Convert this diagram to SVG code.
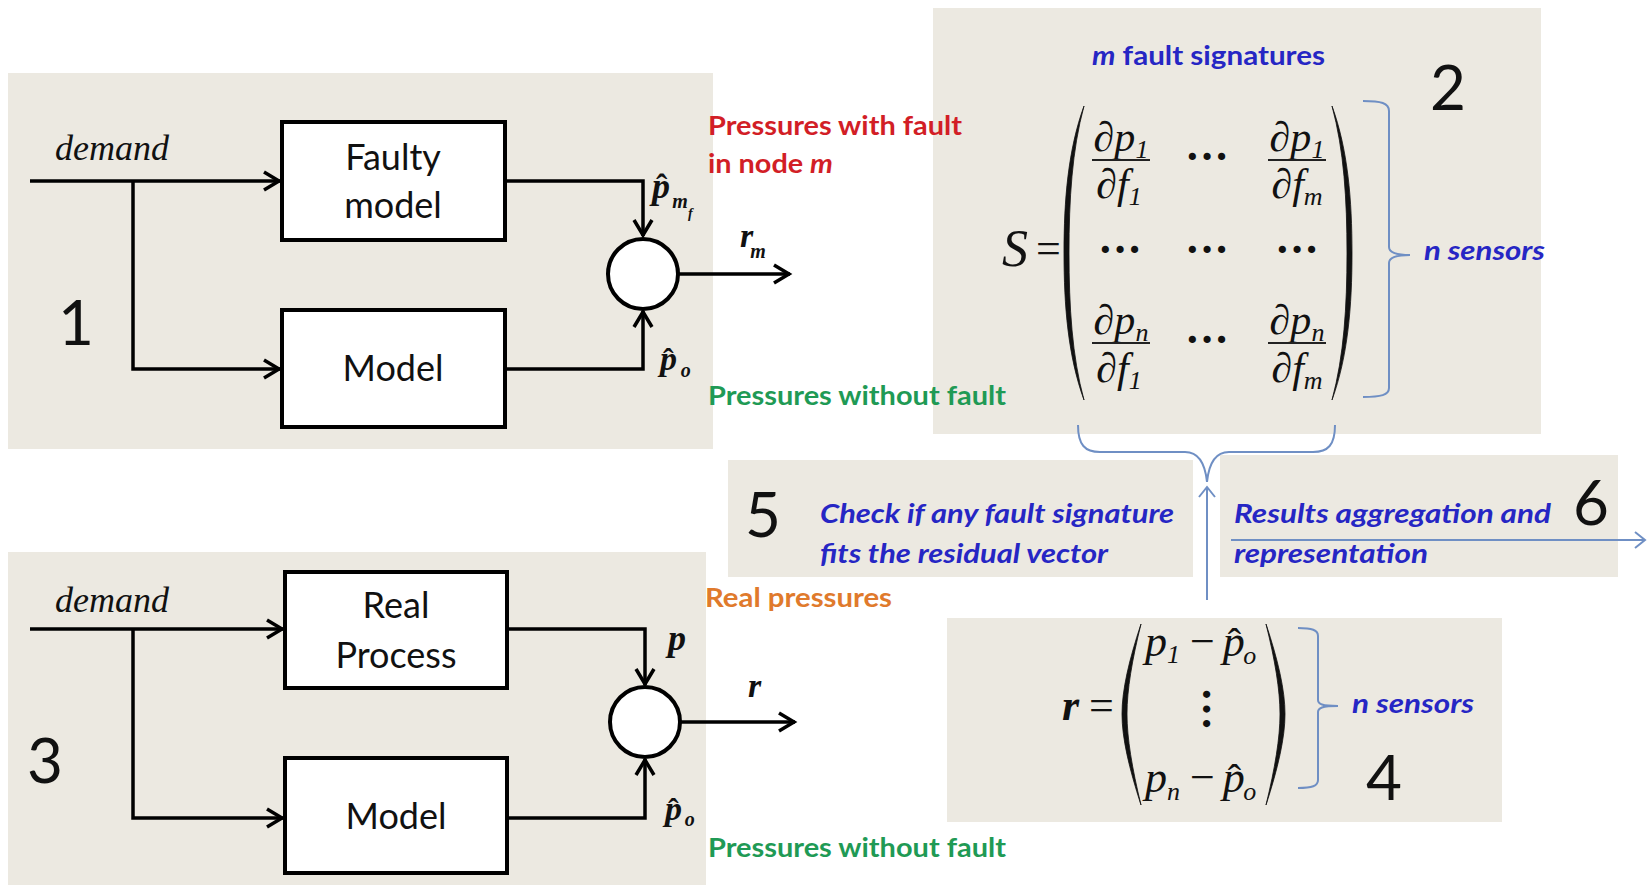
<svg xmlns="http://www.w3.org/2000/svg" width="1647" height="885" viewBox="0 0 1647 885">
<defs>
<style>
.bg{fill:#ece9e1}
.box{fill:#fff;stroke:#000;stroke-width:4}
.sum{fill:#fff;stroke:#000;stroke-width:4}
.wire{fill:none;stroke:#000;stroke-width:3.5;marker-end:url(#ah)}
.lbl{font-family:Lato,"Liberation Sans",sans-serif;font-size:36px;fill:#111;text-anchor:middle}
.num{font-family:Lato,"Liberation Sans",sans-serif;font-size:62px;fill:#111}
.math{font-family:"Liberation Serif","Times New Roman",serif;font-style:italic;fill:#111}
.rm{font-family:"Liberation Serif","Times New Roman",serif;fill:#111}
.up{font-style:normal}
.bm{font-weight:bold}
.note{font-family:Lato,"Liberation Sans",sans-serif;font-size:26px;font-weight:bold}
.blue{fill:#2626c4}
.red{fill:#d21e26}
.green{fill:#1f9a55}
.orange{fill:#e07a2c}
.it{font-style:italic}
.brace{fill:none;stroke:#6f8fc4;stroke-width:2}
.paren{fill:#111;stroke:#111;stroke-width:0.8}
.frac{stroke:#222;stroke-width:2}
</style>
<marker id="ah" markerUnits="userSpaceOnUse" viewBox="-20 -12 26 24" markerWidth="26" markerHeight="24" refX="1" refY="0" orient="auto">
<path d="M-15,-9 L0,0 L-15,9" fill="none" stroke="#000" stroke-width="3.5"/>
</marker>
<marker id="ahb" markerUnits="userSpaceOnUse" viewBox="-14 -10 18 20" markerWidth="18" markerHeight="20" refX="0" refY="0" orient="auto">
<path d="M-10,-8 L0,0 L-10,8" fill="none" stroke="#6f8fc4" stroke-width="2"/>
</marker>
</defs>

<g id="panels">
<rect class="bg" x="8" y="73" width="705" height="376"/>
<rect class="bg" x="8" y="552" width="698" height="333"/>
<rect class="bg" x="933" y="8" width="608" height="426"/>
<rect class="bg" x="728" y="460" width="465" height="117"/>
<rect class="bg" x="1220" y="455" width="398" height="122"/>
<rect class="bg" x="947" y="618" width="555" height="204"/>
</g>

<g id="connectors">
<path class="wire" d="M30,181 H280"/>
<path class="wire" d="M133,181 V369 H280"/>
<path class="wire" d="M505,181 H643 V236"/>
<path class="wire" d="M505,369 H643 V311"/>
<path class="wire" d="M678,274 H790"/>
<path class="wire" d="M30,629 H283"/>
<path class="wire" d="M133,629 V818 H283"/>
<path class="wire" d="M507,629 H645 V685"/>
<path class="wire" d="M507,818 H645 V759"/>
<path class="wire" d="M680,722 H795"/>
<path class="brace" d="M1078,425 C1078,445 1085,452 1100,452 L1185,452 C1198,452 1205,462 1207,482 M1335,425 C1335,445 1328,452 1313,452 L1229,452 C1216,452 1209,462 1207,482"/>
<path class="brace" d="M1207,600 V487" marker-end="url(#ahb)"/>
<path class="brace" d="M1231,540 H1645" marker-end="url(#ahb)"/>
</g>

<g id="node-faulty-model">
<rect class="box" x="282" y="122" width="223" height="118"/>
<text class="lbl" x="393" y="170">Faulty</text>
<text class="lbl" x="393" y="218">model</text>
</g>
<g id="node-model-1">
<rect class="box" x="282" y="310" width="223" height="117"/>
<text class="lbl" x="393" y="381">Model</text>
</g>
<g id="node-sum-1">
<circle class="sum" cx="643" cy="274" r="35"/>
</g>
<g id="node-real-process">
<rect class="box" x="285" y="572" width="222" height="116"/>
<text class="lbl" x="396" y="618">Real</text>
<text class="lbl" x="396" y="668">Process</text>
</g>
<g id="node-model-3">
<rect class="box" x="285" y="758" width="222" height="115"/>
<text class="lbl" x="396" y="829">Model</text>
</g>
<g id="node-sum-3">
<circle class="sum" cx="645" cy="722" r="35"/>
</g>

<g id="labels-panel1">
<text class="math" x="55" y="160" font-size="36">demand</text>
<text class="num" x="58" y="345">1</text>
<text class="math bm" x="652" y="198" font-size="36">p<tspan class="up" font-size="34" dx="-14">ˆ</tspan><tspan font-size="20" dx="5" dy="10">m</tspan><tspan font-size="14" dy="10">f</tspan></text>
<text class="math bm" x="740" y="247" font-size="34">r<tspan font-size="20" dx="-3" dy="11">m</tspan></text>
<text class="math bm" x="660" y="370" font-size="34">p<tspan class="up" font-size="32" dx="-14">ˆ</tspan><tspan font-size="20" dx="7" dy="7">o</tspan></text>
<text class="note red" x="708" y="135" textLength="254" lengthAdjust="spacingAndGlyphs">Pressures with fault</text>
<text class="note red" x="708" y="173" textLength="125" lengthAdjust="spacingAndGlyphs">in node <tspan class="it">m</tspan></text>
<text class="note green" x="708" y="405" textLength="298" lengthAdjust="spacingAndGlyphs">Pressures without fault</text>
</g>

<g id="labels-panel3">
<text class="math" x="55" y="612" font-size="36">demand</text>
<text class="num" x="27" y="783">3</text>
<text class="math bm" x="668" y="650" font-size="36">p</text>
<text class="math bm" x="748" y="697" font-size="34">r</text>
<text class="math bm" x="665" y="820" font-size="34">p<tspan class="up" font-size="32" dx="-14">ˆ</tspan><tspan font-size="20" dx="6" dy="6">o</tspan></text>
<text class="note orange" x="705" y="607" textLength="187" lengthAdjust="spacingAndGlyphs">Real pressures</text>
<text class="note green" x="708" y="857" textLength="298" lengthAdjust="spacingAndGlyphs">Pressures without fault</text>
</g>

<g id="panel2-matrix">
<text class="note blue" x="1092" y="65" textLength="233" lengthAdjust="spacingAndGlyphs"><tspan class="it">m</tspan> fault signatures</text>
<text class="num" x="1430" y="110">2</text>
<text class="math" x="1002" y="266" font-size="52">S</text>
<text class="rm" x="1036" y="263" font-size="44">=</text>
<path class="paren" d="M1084,106 C1068,150 1064,200 1064,253 C1064,306 1068,356 1084,400 C1072,356 1069,306 1069,253 C1069,200 1072,150 1084,106 Z"/>
<path class="paren" d="M1332,106 C1348,150 1352,200 1352,253 C1352,306 1348,356 1332,400 C1344,356 1347,306 1347,253 C1347,200 1344,150 1332,106 Z"/>
<text class="math" x="1121" y="151" font-size="42" text-anchor="middle">∂p<tspan font-size="26" dy="7">1</tspan></text>
<line class="frac" x1="1092" y1="160" x2="1150" y2="160"/>
<text class="math" x="1119" y="198" font-size="42" text-anchor="middle">∂f<tspan font-size="26" dy="7">1</tspan></text>
<text class="math" x="1297" y="151" font-size="42" text-anchor="middle">∂p<tspan font-size="26" dy="7">1</tspan></text>
<line class="frac" x1="1268" y1="160" x2="1326" y2="160"/>
<text class="math" x="1297" y="198" font-size="42" text-anchor="middle">∂f<tspan font-size="26" dy="7">m</tspan></text>
<text class="rm bm" x="1207" y="171" font-size="44" text-anchor="middle">···</text>
<text class="rm bm" x="1120" y="264" font-size="44" text-anchor="middle">···</text>
<text class="rm bm" x="1207" y="264" font-size="44" text-anchor="middle">···</text>
<text class="rm bm" x="1297" y="264" font-size="44" text-anchor="middle">···</text>
<text class="math" x="1121" y="334" font-size="42" text-anchor="middle">∂p<tspan font-size="26" dy="7">n</tspan></text>
<line class="frac" x1="1092" y1="343" x2="1150" y2="343"/>
<text class="math" x="1119" y="382" font-size="42" text-anchor="middle">∂f<tspan font-size="26" dy="7">1</tspan></text>
<text class="rm bm" x="1207" y="354" font-size="44" text-anchor="middle">···</text>
<text class="math" x="1297" y="334" font-size="42" text-anchor="middle">∂p<tspan font-size="26" dy="7">n</tspan></text>
<line class="frac" x1="1268" y1="343" x2="1326" y2="343"/>
<text class="math" x="1297" y="382" font-size="42" text-anchor="middle">∂f<tspan font-size="26" dy="7">m</tspan></text>
<path class="brace" d="M1363,101 C1381,101 1389,103 1389,111 L1389,247 C1389,252 1394,255 1410,255 C1394,255 1389,258 1389,263 L1389,388 C1389,395 1381,397 1363,397"/>
<text class="note blue it" x="1424" y="260" textLength="121" lengthAdjust="spacingAndGlyphs">n sensors</text>
</g>

<g id="panel4-residual">
<text class="math bm" x="1062" y="720" font-size="44">r</text>
<text class="rm" x="1089" y="720" font-size="44">=</text>
<path class="paren" d="M1141,624 C1129,660 1122,690 1122,714 C1122,738 1129,768 1141,805 C1132,768 1127,738 1127,714 C1127,690 1132,660 1141,624 Z"/>
<path class="paren" d="M1266,624 C1278,660 1285,690 1285,714 C1285,738 1278,768 1266,805 C1275,768 1280,738 1280,714 C1280,690 1275,660 1266,624 Z"/>
<text class="math" x="1145" y="656" font-size="44">p<tspan font-size="26" dy="7">1</tspan><tspan class="up" dx="10" dy="-7">−</tspan><tspan dx="8">p</tspan><tspan class="up" font-size="40" dx="-17">ˆ</tspan><tspan font-size="26" dx="2" dy="8">o</tspan></text>
<text class="rm bm" font-size="44" text-anchor="middle" transform="translate(1203,709) rotate(90)" y="11">···</text>
<text class="math" x="1145" y="792" font-size="44">p<tspan font-size="26" dy="8">n</tspan><tspan class="up" dx="10" dy="-8">−</tspan><tspan dx="8">p</tspan><tspan class="up" font-size="40" dx="-17">ˆ</tspan><tspan font-size="26" dx="2" dy="8">o</tspan></text>
<path class="brace" d="M1298,628 C1312,628 1318,630 1318,636 L1318,700 C1318,704 1322,706 1338,706 C1322,706 1318,708 1318,712 L1318,780 C1318,786 1312,788 1298,788"/>
<text class="note blue it" x="1352" y="713" textLength="122" lengthAdjust="spacingAndGlyphs">n sensors</text>
<text class="num" x="1366" y="800">4</text>
</g>

<g id="panel5-check">
<text class="num" x="745" y="537">5</text>
<text class="note blue it" x="820" y="523" textLength="354" lengthAdjust="spacingAndGlyphs">Check if any fault signature</text>
<text class="note blue it" x="820" y="563" textLength="288" lengthAdjust="spacingAndGlyphs">fits the residual vector</text>
</g>

<g id="panel6-results">
<text class="note blue it" x="1234" y="523" textLength="317" lengthAdjust="spacingAndGlyphs">Results aggregation and</text>
<text class="note blue it" x="1234" y="563" textLength="194" lengthAdjust="spacingAndGlyphs">representation</text>
<text class="num" x="1573" y="525">6</text>
</g>
</svg>
